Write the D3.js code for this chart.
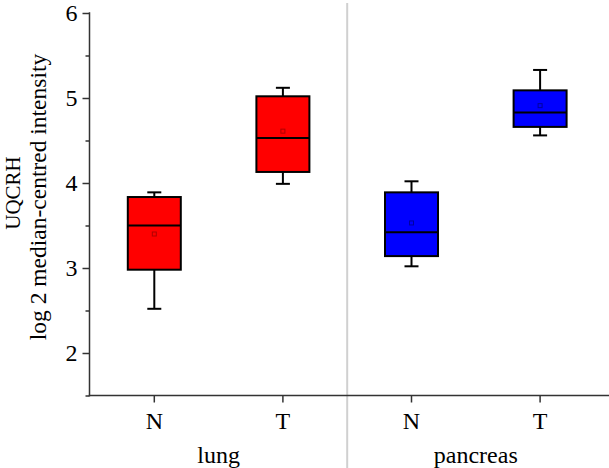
<!DOCTYPE html>
<html><head><meta charset="utf-8">
<script src="https://cdn.jsdelivr.net/npm/d3@7"></script>
<style>html,body{margin:0;padding:0;background:#fff}</style>
</head><body>
<svg id="chart" width="609" height="468"></svg>
<script>
const tissues = ["lung", "pancreas"];
const categories = ["N", "T", "N", "T"];
const groupOf = ["lung", "lung", "pancreas", "pancreas"];
const whiskerLow = [2.52, 3.99, 3.02, 4.56];
const q1 = [2.98, 4.13, 3.14, 4.66];
const median = [3.50, 4.53, 3.42, 4.83];
const q3 = [3.835, 5.02, 3.89, 5.09];
const whiskerHigh = [3.89, 5.12, 4.02, 5.33];
const means = [3.40, 4.61, 3.53, 4.91];
const yTicks = [2, 3, 4, 5, 6];
const yMinor = [1.5, 2.5, 3.5, 4.5, 5.5];
const colors = {lung: "#ff0000", pancreas: "#0000ff"};
const meanColors = {lung: "#b00000", pancreas: "#0000a0"};

(function () {
const svg = d3.select("#chart");
const font = "'Liberation Serif', 'Times New Roman', serif";
const mLeft = 90, mRight = 604.4, mTop = 13, mBottom = 395.5;
const idx = d3.range(categories.length);
const x = d3.scaleBand().domain(idx).range([mLeft, mRight]).paddingInner(0).paddingOuter(0);
const y = d3.scaleLinear().domain([1.5, 6]).range([mBottom, mTop]);
const boxW = 53;

// separator between tissues
const sepX = x(2);
svg.append("line").attr("x1", sepX).attr("x2", sepX).attr("y1", 3).attr("y2", 468)
  .attr("stroke", "#d0d0d0").attr("stroke-width", 2);

// y axis
const yAxis = svg.append("g").attr("transform", `translate(${mLeft - 0.5},0)`)
  .call(d3.axisLeft(y).tickValues(yTicks).tickSize(7).tickFormat(d3.format("d")));
yAxis.selectAll(".domain").remove();
yAxis.selectAll(".tick line").attr("stroke", "#333").attr("stroke-width", 1.5);
yAxis.selectAll(".tick text").attr("font-family", font).attr("font-size", 24).attr("fill", "#000")
  .attr("x", -12).attr("dy", "0.33em");
const yMinorAxis = svg.append("g").attr("transform", `translate(${mLeft - 0.5},0)`)
  .call(d3.axisLeft(y).tickValues(yMinor).tickSize(4).tickFormat(""));
yMinorAxis.selectAll(".domain").remove();
yMinorAxis.selectAll(".tick line").attr("stroke", "#333").attr("stroke-width", 1.5);
svg.append("line").attr("x1", mLeft - 0.5).attr("x2", mLeft - 0.5).attr("y1", mTop - 0.75).attr("y2", mBottom + 0.75)
  .attr("stroke", "#333").attr("stroke-width", 1.5);

// x axis
const xAxis = svg.append("g").attr("transform", `translate(0,${mBottom})`)
  .call(d3.axisBottom(x).tickSize(7).tickFormat(i => categories[i]));
xAxis.selectAll(".domain").remove();
xAxis.selectAll(".tick line").attr("stroke", "#333").attr("stroke-width", 1.5);
xAxis.selectAll(".tick text").attr("font-family", font).attr("font-size", 24).attr("fill", "#000")
  .attr("y", 33).attr("dy", 0);
svg.append("line").attr("x1", mLeft - 1.25).attr("x2", 609).attr("y1", mBottom).attr("y2", mBottom)
  .attr("stroke", "#333").attr("stroke-width", 1.5);

// tissue labels
tissues.forEach((t, k) => {
  const cx = x(2 * k) + x.bandwidth();
  svg.append("text").attr("x", cx).attr("y", 463).attr("text-anchor", "middle")
    .attr("font-family", font).attr("font-size", 24).text(t);
});

// y title
const yt = svg.append("g").attr("transform", "translate(0,197) rotate(-90)");
yt.append("text").attr("x", 4).attr("y", 20).attr("text-anchor", "middle")
  .attr("font-family", font).attr("font-size", 21).text("UQCRH");
yt.append("text").attr("x", 0).attr("y", 46).attr("text-anchor", "middle")
  .attr("font-family", font).attr("font-size", 23.5).text("log 2 median-centred intensity");

// boxes
idx.forEach(i => {
  const cx = x(i) + x.bandwidth() / 2;
  const g = svg.append("g");
  const col = colors[groupOf[i]];
  g.append("line").attr("x1", cx).attr("x2", cx).attr("y1", y(whiskerHigh[i])).attr("y2", y(q3[i]))
    .attr("stroke", "#000").attr("stroke-width", 2);
  g.append("line").attr("x1", cx).attr("x2", cx).attr("y1", y(q1[i])).attr("y2", y(whiskerLow[i]))
    .attr("stroke", "#000").attr("stroke-width", 2);
  [whiskerHigh[i], whiskerLow[i]].forEach(v => {
    g.append("line").attr("x1", cx - 7).attr("x2", cx + 7).attr("y1", y(v)).attr("y2", y(v))
      .attr("stroke", "#000").attr("stroke-width", 2);
  });
  g.append("rect").attr("x", cx - boxW / 2).attr("width", boxW)
    .attr("y", y(q3[i])).attr("height", y(q1[i]) - y(q3[i]))
    .attr("fill", col).attr("stroke", "#000").attr("stroke-width", 2);
  g.append("line").attr("x1", cx - boxW / 2).attr("x2", cx + boxW / 2).attr("y1", y(median[i])).attr("y2", y(median[i]))
    .attr("stroke", "#000").attr("stroke-width", 2);
  g.append("rect").attr("x", cx - 2).attr("y", y(means[i]) - 2).attr("width", 4).attr("height", 4)
    .attr("fill", "none").attr("stroke", meanColors[groupOf[i]]).attr("stroke-width", 1);
});
})();
</script>
</body></html>
